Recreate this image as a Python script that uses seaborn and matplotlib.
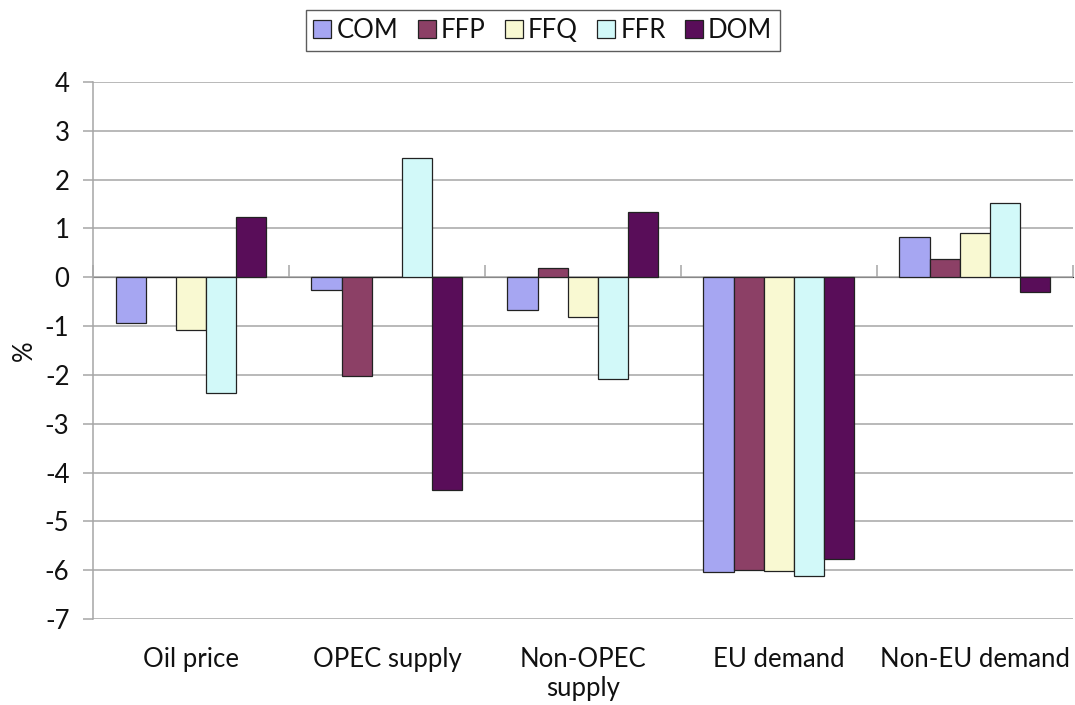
import numpy as np
import pandas as pd
import matplotlib
matplotlib.use('Agg')
import matplotlib.pyplot as plt
import seaborn as sns

# values (%)
categories = ['Oil price', 'OPEC supply', 'Non-OPEC\nsupply', 'EU demand', 'Non-EU demand']
series = ['COM', 'FFP', 'FFQ', 'FFR', 'DOM']
com = [-0.94, -0.26, -0.68, -6.03, 0.82]
ffp = [0.0, -2.03, 0.20, -5.99, 0.38]
ffq = [-1.08, 0.0, -0.82, -6.02, 0.90]
ffr = [-2.38, 2.44, -2.08, -6.12, 1.52]
dom = [1.24, -4.36, 1.34, -5.77, -0.30]
colors = ['#9999FF', '#993366', '#FFFFCC', '#CCFFFF', '#660066']

yticks = list(range(-7, 5))

df = pd.DataFrame({'category': categories * 5,
                   'series': np.repeat(series, 5),
                   'value': com + ffp + ffq + ffr + dom})

sns.set_style('white')
plt.rcParams['font.family'] = ['Lato', 'DejaVu Sans']
plt.rcParams['axes.unicode_minus'] = False

fs = 18.5

fig = plt.figure(figsize=(10.75, 7.05), dpi=100)
ax = fig.add_axes([0.0865, 0.122, 0.9115, 0.7617])

sns.barplot(data=df, x='category', y='value', hue='series', palette=colors,
            width=0.77, edgecolor='#222222', linewidth=0.9, ax=ax, zorder=3)

ax.set_ylim(-7, 4)
ax.set_xlim(-0.5, 4.5)
ax.set_yticks(yticks)
ax.yaxis.grid(True, color='#A6A6A6', linewidth=1.1, zorder=0)
ax.set_axisbelow(True)

for s in ['top', 'right', 'bottom']:
    ax.spines[s].set_visible(False)
ax.spines['left'].set_color('#A6A6A6')
ax.spines['left'].set_linewidth(1.1)

ax.tick_params(axis='y', direction='out', length=7, color='#A6A6A6', width=1.1,
               labelsize=fs, pad=10, left=True, labelcolor='#111111')
ax.tick_params(axis='x', length=0, labelsize=fs, pad=20, labelcolor='#111111')
ax.set_xlabel('')
ax.set_ylabel('%', fontsize=fs, labelpad=6, color='#111111')

# category axis crossing at zero with ticks at the category boundaries
sec = ax.secondary_xaxis(7 / 11)
sec.set_xticks(np.arange(-0.5, 5, 1))
sec.set_xticklabels([])
sec.tick_params(direction='out', length=9, color='#A6A6A6', width=1.1)
sec.spines['bottom'].set_color('#A6A6A6')
sec.spines['bottom'].set_linewidth(1.1)

ax.legend_.remove()
handles, labels = ax.get_legend_handles_labels()
leg = fig.legend(handles, labels, loc='center', bbox_to_anchor=(0.505, 0.957), ncol=5,
                 frameon=True, fancybox=False, fontsize=fs, handlelength=0.7,
                 handleheight=0.7, handletextpad=0.2, columnspacing=0.75,
                 borderpad=0.3, borderaxespad=0)
leg.get_frame().set_edgecolor('#333333')
leg.get_frame().set_linewidth(1.0)
for t in leg.get_texts():
    t.set_color('#111111')

fig.savefig('out.png', dpi=100)
